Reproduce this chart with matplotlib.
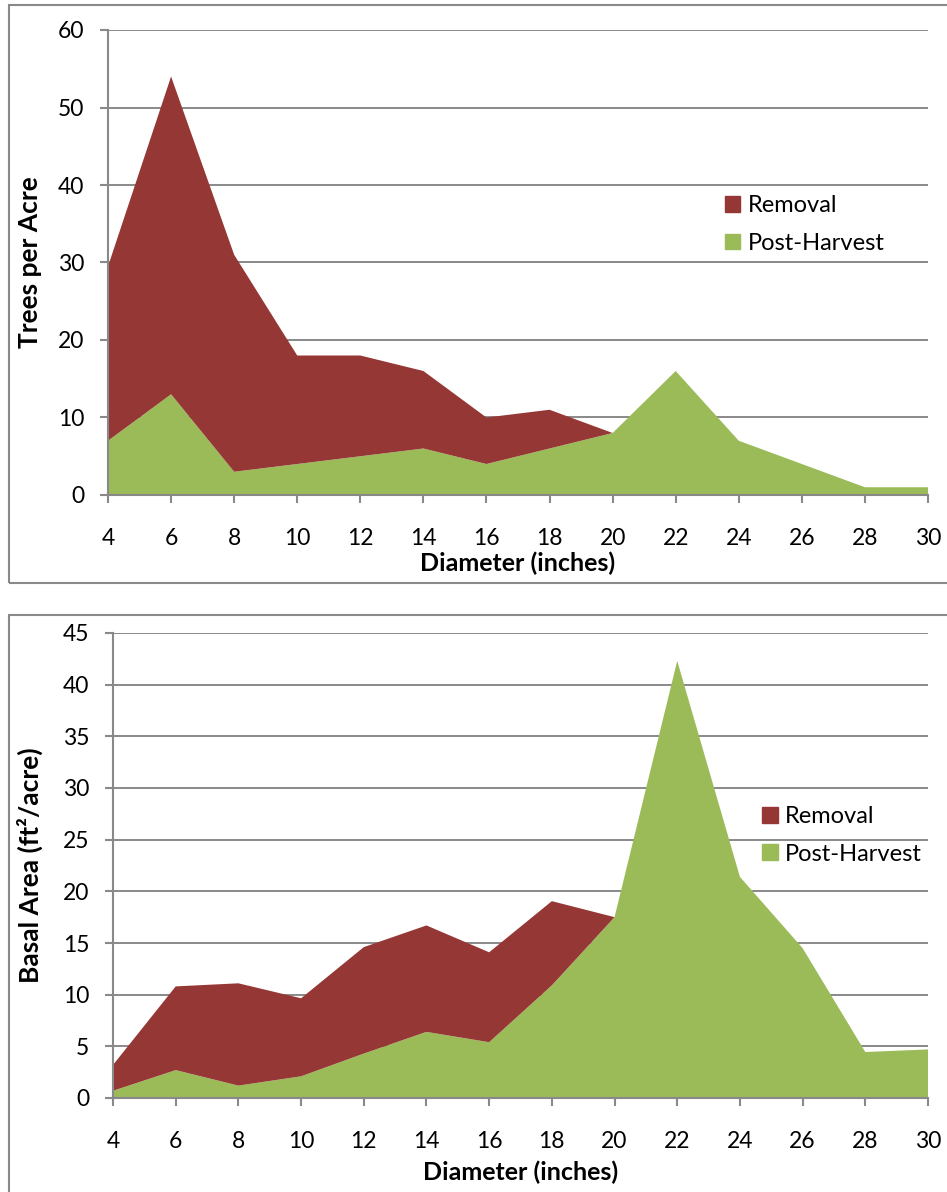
import matplotlib.pyplot as plt
import matplotlib.patches as patches
from matplotlib.patches import Patch

# ============================
# Data
# ============================
diameter = [4, 6, 8, 10, 12, 14, 16, 18, 20, 22, 24, 26, 28, 30]

# Trees per acre
tpa_post = [7, 13, 3, 4, 5, 6, 4, 6, 8, 16, 7, 4, 1, 1]
tpa_removal = [22.5, 41, 28, 14, 13, 10, 6, 5, 0, 0, 0, 0, 0, 0]

# Basal area (ft2/acre)
ba_post = [0.7, 2.7, 1.2, 2.1, 4.3, 6.4, 5.4, 10.9, 17.5, 42.3, 21.4, 14.5, 4.45, 4.7]
ba_removal = [2.5, 8.1, 9.9, 7.55, 10.3, 10.3, 8.7, 8.15, 0, 0, 0, 0, 0, 0]

series_names = ["Removal", "Post-Harvest"]
red = "#953735"
green = "#9BBB59"
gray = "#898989"

plt.rcParams['font.family'] = ['Lato', 'DejaVu Sans']

fig = plt.figure(figsize=(9.47, 11.92), dpi=100)

# bingkai tiap grafik (pixel -> fraksi figure)
W, H = 947, 1192
for (x0, y0, x1, y1) in [(9, 5, 960, 583), (9, 615, 960, 1210)]:
    fig.patches.append(patches.Rectangle((x0 / W, 1 - y1 / H), (x1 - x0) / W, (y1 - y0) / H,
                                         transform=fig.transFigure, fill=False,
                                         edgecolor=gray, linewidth=1.5))


def gambar(ax, post, removal, ymax, ystep, ylabel, leg_xy, ylab_x, xlab_y):
    ax.stackplot(diameter, post, removal, colors=[green, red], linewidth=0)
    ax.set_xlim(4, 30)
    ax.set_ylim(0, ymax)
    ax.set_xticks(diameter)
    ax.set_yticks(range(0, ymax + 1, ystep))
    ax.grid(axis='y', color=gray, linewidth=1.4)
    ax.set_axisbelow(True)
    for s in ['top', 'right']:
        ax.spines[s].set_visible(False)
    for s in ['left', 'bottom']:
        ax.spines[s].set_color(gray)
        ax.spines[s].set_linewidth(1.5)
    ax.tick_params(axis='x', length=6, width=1.5, color=gray, labelsize=16.5, pad=18)
    ax.tick_params(axis='y', length=6, width=1.5, color=gray, labelsize=16.5, pad=11)
    ax.set_xlabel("Diameter (inches)", fontsize=18, fontweight='bold')
    ax.set_ylabel(ylabel, fontsize=19, fontweight='bold')
    ax.xaxis.set_label_coords(0.5, xlab_y)
    ax.yaxis.set_label_coords(ylab_x, 0.5)
    handles = [Patch(color=red), Patch(color=green)]
    ax.legend(handles, series_names, loc='upper left', bbox_to_anchor=leg_xy, frameon=False,
              fontsize=17, handlelength=0.65, handleheight=0.65, handletextpad=0.3,
              labelspacing=0.7, borderaxespad=0)


ax1 = fig.add_axes([108 / W, 1 - 495 / H, 820 / W, 465 / H])
gambar(ax1, tpa_post, tpa_removal, 60, 10, "Trees per Acre", (0.741, 0.665), -0.081, -0.122)

ax2 = fig.add_axes([113 / W, 1 - 1098 / H, 815 / W, 465 / H])
gambar(ax2, ba_post, ba_removal, 45, 5, "Basal Area (ft²/acre)", (0.785, 0.648), -0.086, -0.135)

plt.savefig("out.png", dpi=100)
